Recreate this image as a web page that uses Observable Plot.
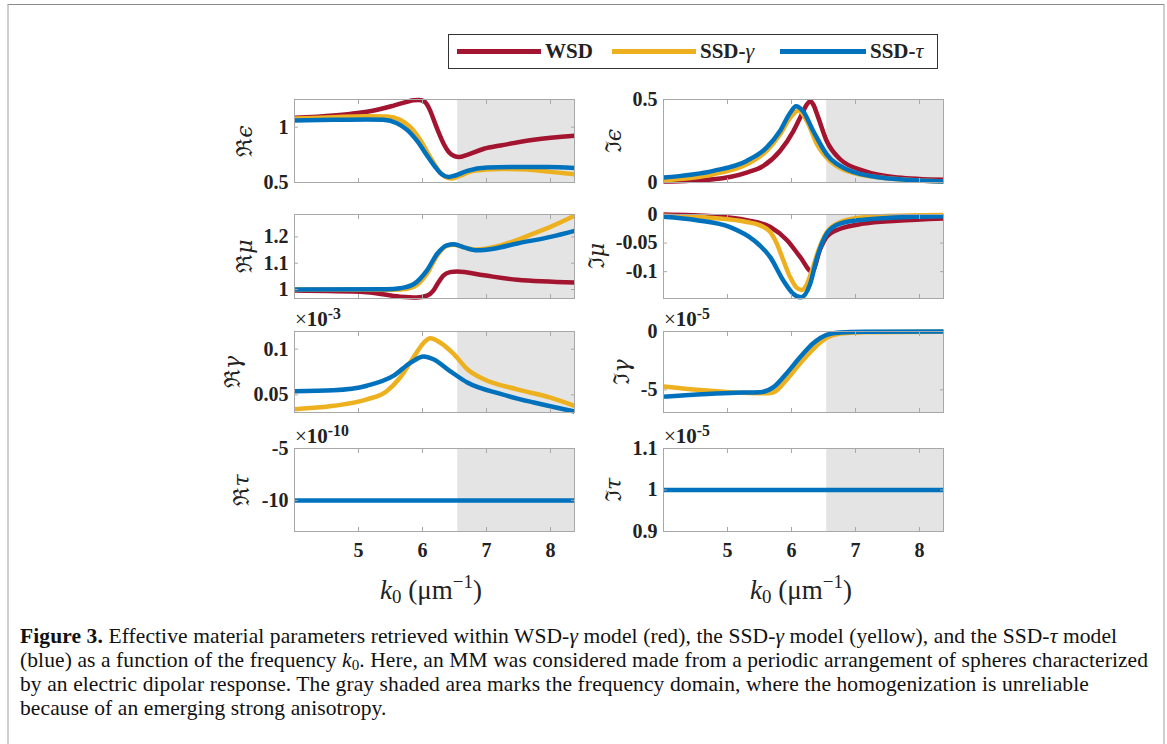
<!DOCTYPE html>
<html><head><meta charset="utf-8">
<script src="https://cdn.jsdelivr.net/npm/d3@7"></script>
<script src="https://cdn.jsdelivr.net/npm/@observablehq/plot@0.6"></script>
<style>
body{margin:0;background:#fff;}
#root{position:relative;width:1167px;height:744px;overflow:hidden;font-family:"Liberation Serif","Times New Roman",serif;color:#222;background:#fff;}
#border{position:absolute;left:7px;top:4px;width:1154px;height:760px;border-top:1.5px solid #8a8a8a;border-left:2px solid #cfcfcf;border-right:2px solid #cfcfcf;}
.ylab{position:absolute;transform:translate(-50%,-50%) rotate(-90deg);font-size:22px;white-space:nowrap;font-family:"DejaVu Serif","Liberation Serif",serif;color:#222;}
.exp{position:absolute;font-size:21px;font-weight:bold;white-space:nowrap;line-height:1;}
.exp span{font-weight:normal;}
.exp sup{font-size:0.75em;vertical-align:0.45em;line-height:0;}
.xlab{position:absolute;transform:translate(-50%,-50%);font-size:27px;white-space:nowrap;color:#222;}
.xlab sub{font-size:0.7em;vertical-align:-0.25em;line-height:0;}
.xlab sup{font-size:0.7em;vertical-align:0.55em;line-height:0;}
#legend{position:absolute;left:448px;top:34px;width:488px;height:33px;border:1.5px solid #333;background:#fff;}
.sw{position:absolute;top:14px;height:5px;}
.lt{position:absolute;top:3px;font-size:21px;font-weight:bold;white-space:nowrap;line-height:26px;}
.lt i{font-weight:normal;font-size:22px;}
#caption{position:absolute;left:20px;top:624px;font-size:21.5px;letter-spacing:0.1px;line-height:24px;white-space:nowrap;color:#111;}
#caption sub{font-size:0.7em;vertical-align:-0.2em;line-height:0;}
.plot{position:absolute;}
</style></head>
<body>
<div id="root">
  <div id="border"></div>
  <div id="legend">
    <div class="sw" style="left:8px;width:84px;background:#A2142F"></div>
    <div class="lt" style="left:96px">WSD</div>
    <div class="sw" style="left:163px;width:84px;background:#EDB120"></div>
    <div class="lt" style="left:251px">SSD-<i>γ</i></div>
    <div class="sw" style="left:331px;width:86px;background:#0072BD"></div>
    <div class="lt" style="left:421px">SSD-<i>τ</i></div>
  </div>
  <div id="caption"><b>Figure 3.</b> Effective material parameters retrieved within WSD-<i>γ</i> model (red), the SSD-<i>γ</i> model (yellow), and the SSD-<i>τ</i> model<br>(blue) as a function of the frequency <i>k</i><sub>0</sub>. Here, an MM was considered made from a periodic arrangement of spheres characterized<br>by an electric dipolar response. The gray shaded area marks the frequency domain, where the homogenization is unreliable<br>because of an emerging strong anisotropy.</div>
</div>
<script>
// ---------- shared axis data ----------
const xDomain = [4, 8.375];
const xTicks = [5, 6, 7, 8];
const shade = [{x1: 6.55, x2: 8.375}];
const cWSD = "#A2142F", cSSDg = "#EDB120", cSSDt = "#0072BD";

// ---------- Re epsilon ----------
const reEpsDomain = [0.5, 1.25];
const reEpsTicks = [0.5, 1];
const kReEpsWSD = [4.0, 4.61, 4.87, 5.24, 5.55, 5.76, 5.86, 5.94, 6.02, 6.12, 6.17, 6.25, 6.33, 6.41, 6.49, 6.57, 6.70, 6.96, 7.22, 7.74, 8.375];
const reEpsWSD  = [1.084, 1.105, 1.12, 1.15, 1.195, 1.23, 1.243, 1.245, 1.235, 1.15, 1.075, 0.955, 0.85, 0.775, 0.74, 0.73, 0.75, 0.805, 0.835, 0.886, 0.922];
const kReEpsSSDg = [4.0, 4.61, 5.13, 5.44, 5.65, 5.81, 5.97, 6.12, 6.25, 6.36, 6.45, 6.57, 6.80, 7.22, 7.63, 8.0, 8.375];
const reEpsSSDg  = [1.078, 1.09, 1.099, 1.096, 1.066, 1.0, 0.88, 0.73, 0.61, 0.55, 0.536, 0.557, 0.605, 0.623, 0.617, 0.596, 0.575];
const kReEpsSSDt = [4.0, 4.61, 5.13, 5.39, 5.60, 5.76, 5.91, 6.07, 6.20, 6.30, 6.41, 6.51, 6.70, 7.01, 7.43, 7.95, 8.375];
const reEpsSSDt  = [1.06, 1.066, 1.069, 1.066, 1.036, 0.976, 0.88, 0.745, 0.64, 0.575, 0.55, 0.563, 0.605, 0.635, 0.64, 0.64, 0.632];

// ---------- Im epsilon ----------
const imEpsDomain = [0, 0.5];
const imEpsTicks = [0, 0.5];
const kImEpsWSD = [4.0, 4.78, 5.30, 5.56, 5.82, 6.03, 6.16, 6.24, 6.29, 6.34, 6.41, 6.55, 6.76, 7.13, 7.65, 8.375];
const imEpsWSD  = [0.006, 0.02, 0.06, 0.10, 0.19, 0.31, 0.41, 0.47, 0.49, 0.47, 0.40, 0.25, 0.14, 0.07, 0.03, 0.016];
const kImEpsSSDg = [4.0, 4.78, 5.30, 5.61, 5.82, 5.98, 6.11, 6.24, 6.40, 6.60, 6.86, 7.39, 8.375];
const imEpsSSDg  = [0.014, 0.05, 0.11, 0.19, 0.29, 0.39, 0.433, 0.37, 0.23, 0.13, 0.07, 0.03, 0.006];
const kImEpsSSDt = [4.0, 4.78, 5.30, 5.61, 5.82, 5.98, 6.07, 6.18, 6.34, 6.55, 6.86, 7.39, 8.375];
const imEpsSSDt  = [0.03, 0.07, 0.13, 0.21, 0.31, 0.42, 0.46, 0.43, 0.31, 0.17, 0.08, 0.03, 0.006];

// ---------- Re mu ----------
const reMuDomain = [0.966, 1.285];
const reMuTicks = [1, 1.1, 1.2];
const kReMuWSD = [4.0, 5.13, 5.65, 5.91, 6.07, 6.17, 6.25, 6.33, 6.43, 6.54, 6.96, 7.48, 8.375];
const reMuWSD  = [0.996, 0.99, 0.973, 0.970, 0.977, 0.996, 1.028, 1.054, 1.066, 1.069, 1.054, 1.037, 1.027];
const kReMuSSDg = [4.0, 5.44, 5.65, 5.86, 6.07, 6.23, 6.38, 6.49, 6.65, 6.85, 7.22, 7.74, 8.0, 8.375];
const reMuSSDg  = [1.0, 0.999, 1.0, 1.01, 1.06, 1.13, 1.166, 1.17, 1.16, 1.152, 1.168, 1.213, 1.238, 1.28];
const kReMuSSDt = [4.0, 5.44, 5.65, 5.86, 6.07, 6.23, 6.38, 6.49, 6.65, 6.85, 7.11, 7.48, 8.0, 8.375];
const reMuSSDt  = [1.0, 1.001, 1.005, 1.02, 1.073, 1.136, 1.168, 1.172, 1.16, 1.149, 1.155, 1.175, 1.2, 1.223];

// ---------- Im mu ----------
const imMuDomain = [-0.147, 0];
const imMuTicks = [-0.1, -0.05, 0];
const kImMuWSD = [4.0, 4.78, 5.30, 5.67, 5.93, 6.14, 6.32, 6.45, 6.55, 6.76, 7.13, 7.65, 8.375];
const imMuWSD  = [0, -0.003, -0.01, -0.022, -0.045, -0.075, -0.1, -0.06, -0.039, -0.025, -0.016, -0.011, -0.007];
const kImMuSSDg = [4.0, 4.78, 5.30, 5.51, 5.67, 5.77, 5.875, 5.98, 6.08, 6.16, 6.24, 6.32, 6.42, 6.55, 6.71, 6.97, 7.39, 8.375];
const imMuSSDg  = [-0.002, -0.006, -0.013, -0.019, -0.031, -0.051, -0.081, -0.11, -0.128, -0.132, -0.122, -0.098, -0.063, -0.031, -0.016, -0.007, -0.003, -0.001];
const kImMuSSDt = [4.0, 4.52, 5.04, 5.41, 5.67, 5.875, 6.03, 6.15, 6.29, 6.40, 6.55, 6.76, 7.13, 7.91, 8.375];
const imMuSSDt  = [-0.004, -0.01, -0.022, -0.045, -0.075, -0.116, -0.139, -0.145, -0.122, -0.075, -0.0335, -0.016, -0.009, -0.004, -0.003];

// ---------- Re gamma (x 1e-3) ----------
const reGamDomain = [0.0307, 0.1193];
const reGamTicks = [0.05, 0.1];
const kReGamSSDg = [4.0, 4.61, 5.13, 5.44, 5.65, 5.86, 6.02, 6.12, 6.28, 6.49, 6.70, 6.96, 7.48, 8.0, 8.375];
const reGamSSDg  = [0.0343, 0.038, 0.045, 0.054, 0.069, 0.091, 0.107, 0.112, 0.107, 0.0945, 0.078, 0.067, 0.056, 0.047, 0.038];
const kReGamSSDt = [4.0, 4.61, 5.13, 5.55, 5.81, 6.02, 6.17, 6.43, 6.70, 7.22, 7.74, 8.375];
const reGamSSDt  = [0.054, 0.055, 0.060, 0.071, 0.085, 0.092, 0.089, 0.076, 0.0635, 0.051, 0.0416, 0.0318];

// ---------- Im gamma (x 1e-5) ----------
const imGamDomain = [-6.94, 0];
const imGamTicks = [-5, 0];
const kImGamSSDg = [4.0, 4.52, 5.04, 5.56, 5.72, 5.85, 5.93, 6.14, 6.34, 6.55, 6.76, 7.13, 8.375];
const imGamSSDg  = [-4.71, -5.0, -5.2, -5.3, -5.2, -4.6, -4.1, -2.7, -1.5, -0.55, -0.18, -0.06, -0.03];
const kImGamSSDt = [4.0, 4.52, 5.04, 5.51, 5.72, 5.93, 6.14, 6.34, 6.55, 6.76, 7.13, 8.375];
const imGamSSDt  = [-5.58, -5.4, -5.26, -5.2, -4.77, -3.55, -2.17, -1.01, -0.29, -0.09, -0.03, 0];

// ---------- Re tau (x 1e-10) ----------
const reTauDomain = [-13, -5];
const reTauTicks = [-10, -5];
const kReTauSSDt = [4.0, 8.375];
const reTauSSDt  = [-10, -10];

// ---------- Im tau (x 1e-5) ----------
const imTauDomain = [0.9, 1.1];
const imTauTicks = [0.9, 1, 1.1];
const kImTauSSDt = [4.0, 8.375];
const imTauSSDt  = [1, 1];

// ---------- layout ----------
const colX = [294, 663];
const rowY = [99, 214, 331, 448];
const rowH = [83, 84, 81, 83];
const frameW = 280;

const panels = [
  {c:0, r:0, domain:reEpsDomain, ticks:reEpsTicks, label:"ℜ<i>ϵ</i>", lx:243,
   series:[[kReEpsWSD, reEpsWSD, cWSD],[kReEpsSSDg, reEpsSSDg, cSSDg],[kReEpsSSDt, reEpsSSDt, cSSDt]]},
  {c:1, r:0, domain:imEpsDomain, ticks:imEpsTicks, label:"ℑ<i>ϵ</i>", lx:612,
   series:[[kImEpsWSD, imEpsWSD, cWSD],[kImEpsSSDg, imEpsSSDg, cSSDg],[kImEpsSSDt, imEpsSSDt, cSSDt]]},
  {c:0, r:1, domain:reMuDomain, ticks:reMuTicks, label:"ℜ<i>μ</i>", lx:243,
   series:[[kReMuWSD, reMuWSD, cWSD],[kReMuSSDg, reMuSSDg, cSSDg],[kReMuSSDt, reMuSSDt, cSSDt]]},
  {c:1, r:1, domain:imMuDomain, ticks:imMuTicks, label:"ℑ<i>μ</i>", lx:595,
   series:[[kImMuWSD, imMuWSD, cWSD],[kImMuSSDg, imMuSSDg, cSSDg],[kImMuSSDt, imMuSSDt, cSSDt]]},
  {c:0, r:2, domain:reGamDomain, ticks:reGamTicks, label:"ℜ<i>γ</i>", lx:231, exp:"-3",
   series:[[kReGamSSDg, reGamSSDg, cSSDg],[kReGamSSDt, reGamSSDt, cSSDt]]},
  {c:1, r:2, domain:imGamDomain, ticks:imGamTicks, label:"ℑ<i>γ</i>", lx:620, exp:"-5",
   series:[[kImGamSSDg, imGamSSDg, cSSDg],[kImGamSSDt, imGamSSDt, cSSDt]]},
  {c:0, r:3, domain:reTauDomain, ticks:reTauTicks, label:"ℜ<i>τ</i>", lx:240, exp:"-10", showX:true,
   series:[[kReTauSSDt, reTauSSDt, cSSDt]]},
  {c:1, r:3, domain:imTauDomain, ticks:imTauTicks, label:"ℑ<i>τ</i>", lx:612, exp:"-5", showX:true,
   series:[[kImTauSSDt, imTauSSDt, cSSDt]]}
];

const root = document.getElementById("root");
const fmt = d => String(d);
const frameColor = "#a8a8a8";

for (const p of panels) {
  const ML = 80, MR = 6, MT = 4, MB = p.showX ? 40 : 4;
  const fx = colX[p.c], fy = rowY[p.r], fh = rowH[p.r];
  const lines = p.series.map(([ks, vs, color]) =>
    Plot.line(ks.map((k, i) => ({k, v: vs[i]})), {x: "k", y: "v", stroke: color, strokeWidth: 4.5, strokeLinecap: "butt", curve: "monotone-x"}));
  const marks = [
    Plot.rect(shade, {x1: "x1", x2: "x2", y1: () => p.domain[0], y2: () => p.domain[1], fill: "#e4e4e4"}),
    ...lines,
    Plot.frame({stroke: frameColor, strokeWidth: 1}),
    Plot.axisY({anchor: "left", ticks: p.ticks, tickSize: 0, tickPadding: 6, tickFormat: fmt, label: null}),
    Plot.axisY({anchor: "left", ticks: p.ticks, tickSize: 4, dx: 4, tickFormat: () => "", label: null, stroke: frameColor}),
    Plot.axisY({anchor: "right", ticks: p.ticks, tickSize: 4, dx: -4, tickFormat: () => "", label: null, stroke: frameColor}),
    Plot.axisX({anchor: "bottom", ticks: xTicks, tickSize: 4, dy: -4, tickFormat: () => "", label: null, stroke: frameColor}),
    Plot.axisX({anchor: "top", ticks: xTicks, tickSize: 4, dy: 4, tickFormat: () => "", label: null, stroke: frameColor})
  ];
  if (p.showX) marks.push(Plot.axisX({anchor: "bottom", ticks: xTicks, tickSize: 0, tickPadding: 11, tickFormat: fmt, label: null}));
  const chart = Plot.plot({
    width: frameW + ML + MR, height: fh + MT + MB,
    marginLeft: ML, marginRight: MR, marginTop: MT, marginBottom: MB,
    x: {domain: xDomain}, y: {domain: p.domain},
    style: {fontFamily: "'Liberation Serif', 'Times New Roman', serif", fontSize: "20px", fontWeight: "bold", color: "#222", background: "transparent", overflow: "visible"},
    marks
  });
  const wrap = document.createElement("div");
  wrap.className = "plot";
  wrap.style.left = (fx - ML) + "px";
  wrap.style.top = (fy - MT) + "px";
  wrap.appendChild(chart);
  root.appendChild(wrap);

  const lab = document.createElement("div");
  lab.className = "ylab";
  lab.innerHTML = p.label;
  lab.style.left = p.lx + "px";
  lab.style.top = (fy + fh / 2) + "px";
  root.appendChild(lab);

  if (p.exp) {
    const e = document.createElement("div");
    e.className = "exp";
    e.innerHTML = "<span>×</span>10<sup>" + p.exp + "</sup>";
    e.style.left = (fx + 1) + "px";
    e.style.top = (fy - 22) + "px";
    root.appendChild(e);
  }
}

// x axis titles
for (const cx of [431, 801]) {
  const t = document.createElement("div");
  t.className = "xlab";
  t.innerHTML = "<i>k</i><sub>0</sub> (μm<sup>−1</sup>)";
  t.style.left = cx + "px";
  t.style.top = "590px";
  root.appendChild(t);
}
// keep legend on top
root.appendChild(document.getElementById("legend"));
</script>
</body></html>
